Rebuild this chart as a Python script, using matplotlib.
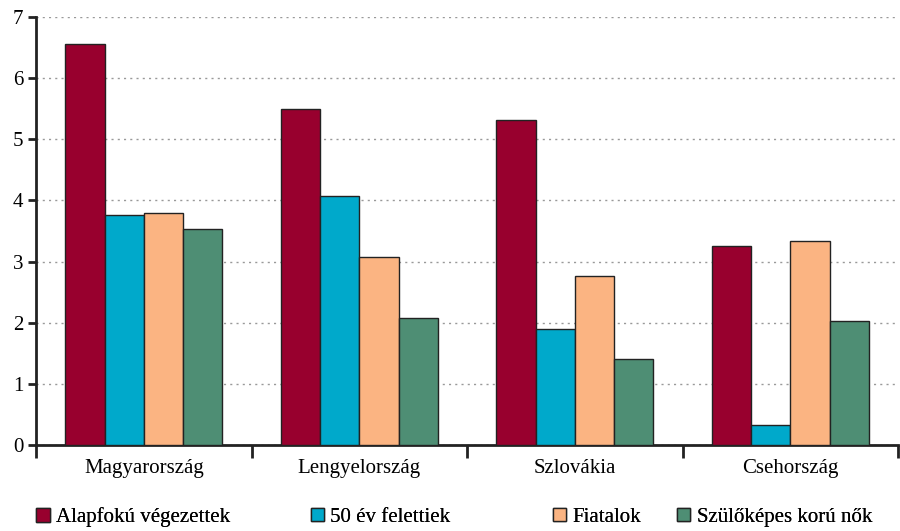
import numpy as np
import matplotlib

matplotlib.use("Agg")
import matplotlib.pyplot as plt

countries = ["Magyarország", "Lengyelország", "Szlovákia", "Csehország"]
series_names = ["Alapfokú végezettek", "50 év felettiek", "Fiatalok",
                "Szülőképes korú nők"]
alapfoku = [6.56, 5.50, 5.31, 3.25]
felettiek_50 = [3.76, 4.08, 1.90, 0.33]
fiatalok = [3.79, 3.08, 2.76, 3.34]
szulokepes = [3.54, 2.08, 1.40, 2.02]
colors = ["#98002E", "#00A9CB", "#FBB482", "#4E8E74"]

plt.rcParams["font.family"] = ["Liberation Serif", "DejaVu Serif"]

fig = plt.figure(figsize=(9, 5.31), dpi=100)
ax = fig.add_axes([0.04, 0.162, 0.958, 0.806])

x = np.arange(len(countries))
w = 0.182
values = [alapfoku, felettiek_50, fiatalok, szulokepes]
bars = []
for i, (name, vals, col) in enumerate(zip(series_names, values, colors)):
    b = ax.bar(x + (i - 1.5) * w, vals, w, color=col, edgecolor="#222222",
               linewidth=1.0, label=name, zorder=3)
    bars.append(b)

ax.set_xlim(-0.5, len(countries) - 0.5)
ax.set_ylim(0, 7)
ax.set_yticks(range(8))
ax.yaxis.grid(True, linestyle=(0, (1.5, 3)), color="#999999", linewidth=1.0,
              zorder=0)

ax.set_xticks(x)
ax.set_xticklabels(countries, fontsize=15)
ax.set_xticks(np.arange(-0.5, len(countries)), minor=True)
ax.tick_params(axis="x", which="major", length=0, pad=10)
ax.tick_params(axis="x", which="minor", length=9, width=2, color="#222222")
ax.tick_params(axis="y", length=6, width=2, color="#222222", labelsize=15,
               pad=3)

for s in ["top", "right"]:
    ax.spines[s].set_visible(False)
for s in ["left", "bottom"]:
    ax.spines[s].set_linewidth(2)
    ax.spines[s].set_color("#222222")

# one legend per entry so the spacing follows the original layout
legend_x = [0.040, 0.345, 0.614, 0.752]
for b, name, lx in zip(bars, series_names, legend_x):
    leg = fig.legend([b], [name], loc="center left", bbox_to_anchor=(lx, 0.026),
                     frameon=False, fontsize=15, handlelength=0.65,
                     handleheight=0.65, handletextpad=0.3, borderpad=0,
                     borderaxespad=0)
    fig.add_artist(leg)

fig.savefig("out.png", dpi=100)
